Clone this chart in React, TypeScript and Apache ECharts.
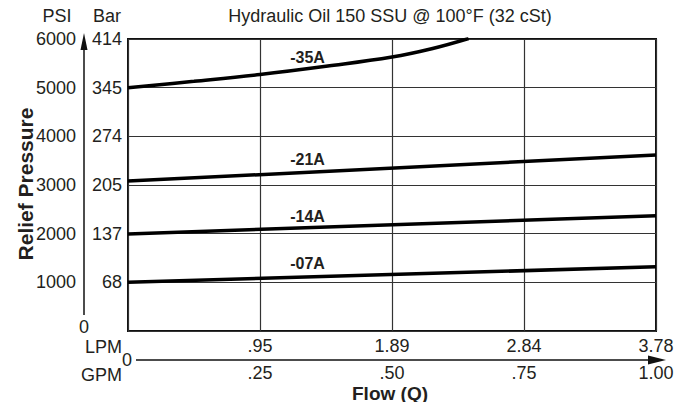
import React, { useEffect, useRef } from 'react';
import * as echarts from 'echarts';

const gpmTicks = [0, 0.25, 0.5, 0.75, 1.0];
const lpmLabels = ['', '.95', '1.89', '2.84', '3.78'];
const gpmLabels = ['', '.25', '.50', '.75', '1.00'];
const psiLabels = ['', '1000', '2000', '3000', '4000', '5000', '6000'];
const barLabels = ['', '68', '137', '205', '274', '345', '414'];

const seriesNames = ['-07A', '-14A', '-21A', '-35A'];
const series07 = [[0, 1000], [1, 1320]];
const series14 = [[0, 1995], [1, 2370]];
const series21 = [[0, 3080], [1, 3615]];
const series35 = [[0, 5000], [0.125, 5130], [0.25, 5270], [0.375, 5440], [0.5, 5630], [0.575, 5800], [0.645, 6010]];
const labelAnchors = [[0.34, 1377], [0.34, 2363], [0.34, 3514], [0.34, 5630]];

const FONT = 'Liberation Sans, Arial, Helvetica, sans-serif';
const TXT = '#231f20';

export default function App() {
  const ref = useRef<HTMLDivElement>(null);
  useEffect(() => {
    if (!ref.current) return;
    const chart = echarts.init(ref.current, null, { renderer: 'svg' });
    const datas = [series07, series14, series21, series35];
    const idx = (v: number) => gpmTicks.findIndex((t) => Math.abs(t - v) < 1e-6);
    chart.setOption({
      animation: false,
      textStyle: { fontFamily: FONT, color: TXT },
      grid: {
        left: 128, right: 32, top: 39, bottom: 71,
        show: true, borderColor: '#111', borderWidth: 2, backgroundColor: 'transparent',
      },
      xAxis: [
        {
          type: 'value', min: 0, max: 1, interval: 0.25, position: 'bottom',
          axisLine: { show: false }, axisTick: { show: false },
          splitLine: { show: true, lineStyle: { color: '#333', width: 1.2 } },
          axisLabel: {
            margin: 6, fontSize: 18, color: TXT, fontFamily: FONT,
            formatter: (v: number) => lpmLabels[idx(v)] ?? '',
          },
        },
        {
          type: 'value', min: 0, max: 1, interval: 0.25, position: 'bottom', offset: 29,
          axisLine: { show: false }, axisTick: { show: false }, splitLine: { show: false },
          axisLabel: {
            margin: 4, fontSize: 18, color: TXT, fontFamily: FONT,
            formatter: (v: number) => gpmLabels[idx(v)] ?? '',
          },
        },
      ],
      yAxis: [
        {
          type: 'value', min: 0, max: 6000, interval: 1000, position: 'left',
          axisLine: { show: false }, axisTick: { show: false },
          splitLine: { show: true, lineStyle: { color: '#333', width: 1.2 } },
          axisLabel: {
            margin: 6, fontSize: 18, color: TXT, fontFamily: FONT,
            formatter: (v: number) => barLabels[Math.round(v / 1000)] ?? '',
          },
        },
        {
          type: 'value', min: 0, max: 6000, interval: 1000, position: 'left', offset: 44,
          axisLine: { show: false }, axisTick: { show: false }, splitLine: { show: false },
          axisLabel: {
            margin: 8, fontSize: 18, color: TXT, fontFamily: FONT,
            formatter: (v: number) => psiLabels[Math.round(v / 1000)] ?? '',
          },
        },
      ],
      series: datas.map((d, i) => ({
        name: seriesNames[i],
        type: 'line',
        data: d,
        smooth: i === 3 ? 0.4 : false,
        showSymbol: false,
        symbol: 'none',
        clip: true,
        lineStyle: { color: '#000', width: 3.5 },
        markPoint: {
          symbol: 'circle',
          symbolSize: 0,
          itemStyle: { color: 'transparent' },
          data: [
            {
              coord: labelAnchors[i],
              label: {
                show: true, position: 'inside', formatter: seriesNames[i],
                fontSize: 16, fontWeight: 'bold', color: TXT, fontFamily: FONT,
              },
            },
          ],
        },
      })),
      graphic: [
        { type: 'text', x: 57, y: 16, style: { text: 'PSI', fontSize: 18, fontFamily: FONT, fill: TXT, textAlign: 'center', textVerticalAlign: 'middle' } },
        { type: 'text', x: 107, y: 16, style: { text: 'Bar', fontSize: 18, fontFamily: FONT, fill: TXT, textAlign: 'center', textVerticalAlign: 'middle' } },
        { type: 'text', x: 390, y: 16, style: { text: 'Hydraulic Oil 150 SSU @ 100°F (32 cSt)', fontSize: 18, fontFamily: FONT, fill: TXT, textAlign: 'center', textVerticalAlign: 'middle' } },
        { type: 'line', shape: { x1: 84, y1: 315, x2: 84, y2: 44 }, style: { stroke: '#111', lineWidth: 1.5 } },
        { type: 'polygon', shape: { points: [[84, 33], [80.5, 50], [87.5, 50]] }, style: { fill: '#111' } },
        { type: 'text', x: 84, y: 327, style: { text: '0', fontSize: 18, fontFamily: FONT, fill: TXT, textAlign: 'center', textVerticalAlign: 'middle' } },
        { type: 'text', x: 122, y: 347, style: { text: 'LPM', fontSize: 18, fontFamily: FONT, fill: TXT, textAlign: 'right', textVerticalAlign: 'middle' } },
        { type: 'text', x: 122, y: 375, style: { text: 'GPM', fontSize: 18, fontFamily: FONT, fill: TXT, textAlign: 'right', textVerticalAlign: 'middle' } },
        { type: 'text', x: 132, y: 360, style: { text: '0', fontSize: 18, fontFamily: FONT, fill: TXT, textAlign: 'right', textVerticalAlign: 'middle' } },
        { type: 'line', shape: { x1: 136, y1: 360, x2: 652, y2: 360 }, style: { stroke: '#111', lineWidth: 1.5 } },
        { type: 'polygon', shape: { points: [[666, 360], [648, 355.5], [648, 364.5]] }, style: { fill: '#111' } },
        { type: 'text', x: 25, y: 184, rotation: Math.PI / 2, style: { text: 'Relief Pressure', fontSize: 21, fontWeight: 'bold', fontFamily: FONT, fill: TXT, textAlign: 'center', textVerticalAlign: 'middle' } },
        { type: 'text', x: 390, y: 393, style: { text: 'Flow (Q)', fontSize: 19, fontWeight: 'bold', fontFamily: FONT, fill: TXT, textAlign: 'center', textVerticalAlign: 'middle' } },
      ],
    });
    return () => chart.dispose();
  }, []);
  return <div ref={ref} style={{ position: 'fixed', left: 0, top: 0, width: 688, height: 402, background: '#fff' }} />;
}
